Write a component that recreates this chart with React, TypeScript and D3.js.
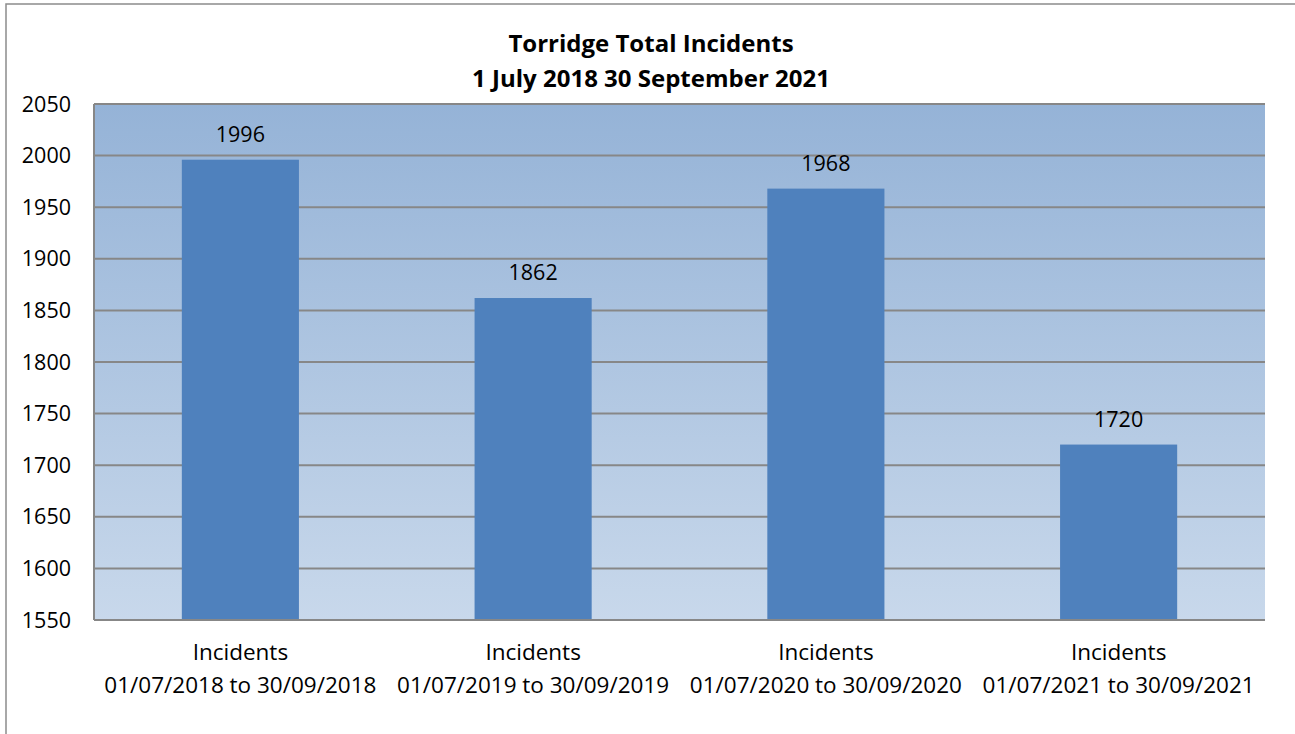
import React from "react";
import * as d3 from "d3";

const categories = [
  ["Incidents", "01/07/2018 to 30/09/2018"],
  ["Incidents", "01/07/2019 to 30/09/2019"],
  ["Incidents", "01/07/2020 to 30/09/2020"],
  ["Incidents", "01/07/2021 to 30/09/2021"],
];
const values = [1996, 1862, 1968, 1720];
const yTicks = [1550, 1600, 1650, 1700, 1750, 1800, 1850, 1900, 1950, 2000, 2050];
const titleLines = ["Torridge Total Incidents", "1 July 2018 30 September 2021"];

export default function App() {
  const W = 1295, H = 734;
  const left = 94, right = 1265, top = 104, bottom = 620;
  const x = d3.scaleBand<number>().domain(d3.range(values.length)).range([left, right]).padding(0);
  const y = d3.scaleLinear().domain([1550, 2050]).range([bottom, top]);
  const bw = x.bandwidth() * 0.4;
  const font = "'Open Sans', sans-serif";
  return (
    <svg width={W} height={H} style={{ position: "absolute", left: 0, top: 0 }}>
      <defs>
        <linearGradient id="bg" x1="0" y1="0" x2="0" y2="1">
          <stop offset="0" stopColor="#95B3D7" />
          <stop offset="1" stopColor="#C8D8EB" />
        </linearGradient>
      </defs>
      <rect x={0} y={0} width={W} height={H} fill="#fff" />
      <rect x={6} y={4} width={W + 10} height={H + 10} fill="#fff" stroke="#8c8c8c" strokeWidth={1.5} />
      <rect x={left} y={top} width={right - left} height={bottom - top} fill="url(#bg)" />
      {yTicks.map((t) => (
        <line key={t} x1={left} x2={right} y1={y(t)} y2={y(t)} stroke="#878787" strokeWidth={2} />
      ))}
      <line x1={left} x2={left} y1={top} y2={bottom} stroke="#878787" strokeWidth={2} />
      {values.map((v, i) => {
        const cx = x(i)! + x.bandwidth() / 2;
        return (
          <g key={i}>
            <rect x={cx - bw / 2} y={y(v)} width={bw} height={bottom - y(v) - 1} fill="#4F81BD" />
            <text x={cx} y={y(v) - 18} textAnchor="middle" fontFamily={font} fontSize={21.5} fill="#000">
              {v}
            </text>
          </g>
        );
      })}
      <line x1={left} x2={right} y1={bottom} y2={bottom} stroke="#878787" strokeWidth={2} />
      {yTicks.map((t) => (
        <text key={t} x={71} y={y(t) + 7.5} textAnchor="end" fontFamily={font} fontSize={21.5} fill="#000">
          {t}
        </text>
      ))}
      {categories.map((c, i) => {
        const cx = x(i)! + x.bandwidth() / 2;
        return (
          <text key={i} textAnchor="middle" fontFamily={font} fontSize={22.5} fill="#000">
            <tspan x={cx} y={660}>{c[0]}</tspan>
            <tspan x={cx} y={693}>{c[1]}</tspan>
          </text>
        );
      })}
      <text textAnchor="middle" fontFamily={font} fontSize={24} fontWeight="bold" fill="#000">
        <tspan x={651} y={52}>{titleLines[0]}</tspan>
        <tspan x={651} y={87}>{titleLines[1]}</tspan>
      </text>
    </svg>
  );
}
